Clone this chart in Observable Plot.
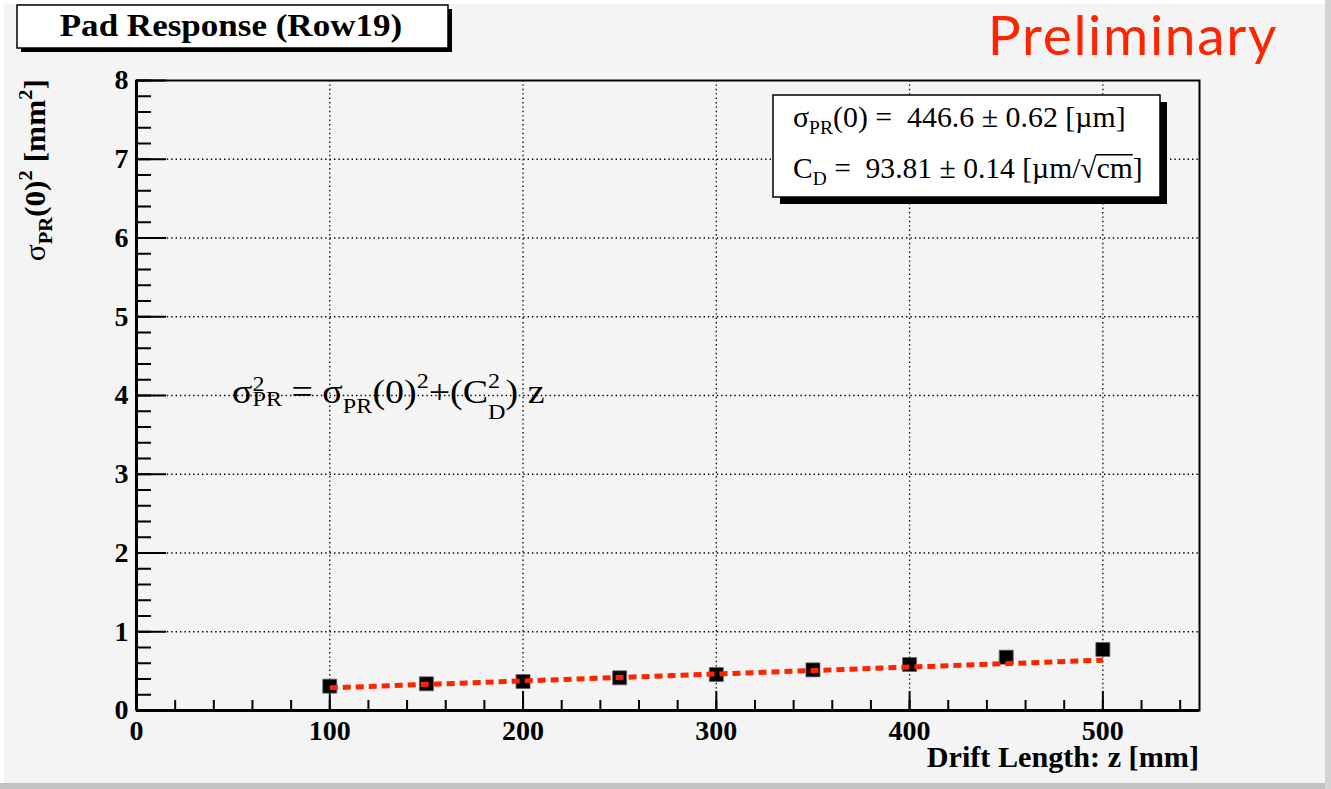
<!DOCTYPE html>
<html>
<head>
<meta charset="utf-8">
<script src="https://cdn.jsdelivr.net/npm/d3@7"></script>
<script src="https://cdn.jsdelivr.net/npm/@observablehq/plot@0.6"></script>
<style>
  html, body { margin: 0; padding: 0; background: #f4f4f4; }
  #chart { width: 1331px; height: 789px; position: relative; overflow: hidden; }
  #chart svg { display: block; }
</style>
</head>
<body>
<div id="chart"></div>
<script>
// Measured pad-response width squared versus drift length (Row 19)
const driftLength = [100, 150, 200, 250, 300, 350, 400, 450, 500];           // z [mm]
const sigmaPR2 = [0.309, 0.339, 0.368, 0.415, 0.457, 0.516, 0.584, 0.677, 0.775]; // σ_PR² [mm²]

// Fit result: σ_PR² = σ_PR(0)² + C_D² z
const fitSigma0 = 446.6;     // µm
const fitSigma0Err = 0.62;   // µm
const fitCD = 93.81;         // µm/√cm
const fitCDErr = 0.14;       // µm/√cm
const fitRange = [100, 500]; // mm

// Axis ticks
const xMajorTicks = [0, 100, 200, 300, 400, 500];
const xMinorTicks = d3.range(0, 551, 20);
const yMajorTicks = [0, 1, 2, 3, 4, 5, 6, 7, 8];
const yMinorTicks = d3.range(0, 8.01, 0.2);

// Texts
const titleText = "Pad Response (Row19)";
const stampText = "Preliminary";
const xTitleText = "Drift Length: z [mm]";

const points = driftLength.map((z, i) => ({z, s2: sigmaPR2[i]}));
// fit curve evaluated in mm²: (µm → mm)², C_D² per cm → per 10 mm
const fitAt = z => (fitSigma0 / 1000) ** 2 + (fitCD / 1000) ** 2 * (z / 10);
const fitLine = fitRange.map(z => ({z, s2: fitAt(z)}));

const serif = "'Liberation Serif', 'Times New Roman', serif";
const axisStyle = {stroke: "#000", strokeWidth: 2, label: null};

const chart = Plot.plot({
  width: 1331,
  height: 789,
  marginLeft: 136,
  marginRight: 132,
  marginTop: 80,
  marginBottom: 79,
  style: {background: "transparent", fontFamily: serif, fontSize: "28px", fontWeight: "bold", color: "#000"},
  x: {domain: [0, 550]},
  y: {domain: [0, 8]},
  marks: [
    // dotted grid at major ticks
    Plot.gridX(xMajorTicks.filter(d => d > 0), {stroke: "#000", strokeOpacity: 1, strokeWidth: 1.3, strokeDasharray: "1.4,3"}),
    Plot.gridY(yMajorTicks.filter(d => d > 0 && d < 8), {stroke: "#000", strokeOpacity: 1, strokeWidth: 1.3, strokeDasharray: "1.4,3"}),
    Plot.frame({stroke: "#000", strokeWidth: 2}),
    // inward ticks
    Plot.axisX({...axisStyle, ticks: xMinorTicks, tickSize: -10, fill: "none"}),
    Plot.axisX({...axisStyle, ticks: xMajorTicks, tickSize: -19, fill: "none"}),
    Plot.axisY({...axisStyle, ticks: yMinorTicks, tickSize: -15, fill: "none"}),
    Plot.axisY({...axisStyle, ticks: yMajorTicks, tickSize: -30, fill: "none"}),
    // tick labels
    Plot.axisX({ticks: xMajorTicks, tickSize: 0, tickPadding: 10, tickFormat: d3.format("d"), label: null, fill: "#000"}),
    Plot.axisY({ticks: yMajorTicks, tickSize: 0, tickPadding: 8, tickFormat: d3.format("d"), label: null, fill: "#000"}),
    Plot.ruleX([0], {stroke: "#000", strokeWidth: 3}),
    Plot.ruleY([0], {stroke: "#000", strokeWidth: 3}),
    // data
    Plot.dot(points, {x: "z", y: "s2", symbol: "square", r: 7.9, fill: "#000", stroke: "#666", strokeWidth: 0.8}),
    Plot.line(fitLine, {x: "z", y: "s2", stroke: "#ff2400", strokeWidth: 5, strokeDasharray: "8,5", strokeLinecap: "butt"})
  ]
});

document.getElementById("chart").append(chart);
const svg = d3.select(chart);

// Rich text: runs of text with sub/superscripts laid out by measured widths,
// optionally widened horizontally by sx
function rich(parent, segs, {x = 0, y = 0, anchor = "start", family = serif, size = 26, weight = "normal", fill = "#000", sx = 1} = {}) {
  const g = parent.append("g").attr("text-anchor", "start");
  let cx = 0;
  const put = (s, at) => {
    const t = g.append("text")
      .attr("x", at).attr("y", s.dy || 0)
      .attr("text-anchor", "start")
      .attr("font-family", s.family || family)
      .attr("font-size", s.size || size)
      .attr("font-weight", s.weight || weight)
      .attr("fill", fill)
      .style("white-space", "pre")
      .text(s.t);
    const w = t.node().getComputedTextLength();
    if (s.overline) {
      const yy = (s.dy || 0) - (s.size || size) * 0.8;
      g.append("line")
        .attr("x1", at - 1).attr("x2", at + w)
        .attr("y1", yy).attr("y2", yy)
        .attr("stroke", fill).attr("stroke-width", 1.4);
    }
    return w + (s.after || 0);
  };
  for (const s of segs) {
    if (s.stack) {
      let w = 0;
      for (const p of s.stack) w = Math.max(w, put(p, cx));
      cx += w;
    } else {
      cx += put(s, cx);
    }
  }
  const total = cx * sx;
  const shift = anchor === "end" ? -total : anchor === "middle" ? -total / 2 : 0;
  g.attr("transform", `translate(${x + shift},${y}) scale(${sx},1)`);
  return g;
}

// Canvas bevel
svg.append("rect").attr("x", 0).attr("y", 0).attr("width", 1331).attr("height", 4).attr("fill", "#fff");
svg.append("rect").attr("x", 0).attr("y", 0).attr("width", 4).attr("height", 789).attr("fill", "#fff");
svg.append("rect").attr("x", 0).attr("y", 783).attr("width", 1331).attr("height", 6).attr("fill", "#c2c2c2");
svg.append("rect").attr("x", 1325).attr("y", 0).attr("width", 6).attr("height", 789).attr("fill", "#d4d4d4");

// Title box with shadow
svg.append("rect").attr("x", 21).attr("y", 9).attr("width", 431).attr("height", 43).attr("fill", "#000");
svg.append("rect").attr("x", 17).attr("y", 5).attr("width", 431).attr("height", 43)
  .attr("fill", "#fff").attr("stroke", "#000").attr("stroke-width", 1.5);
rich(svg, [{t: titleText}], {x: 231, y: 36, anchor: "middle", size: 31, weight: "bold", sx: 1.13});

// Stamp
svg.append("text").attr("x", 1278).attr("y", 55).attr("text-anchor", "end")
  .attr("font-family", "Lato, 'Open Sans', sans-serif").attr("font-size", 55)
  .attr("font-weight", "normal").attr("letter-spacing", 1.7)
  .attr("fill", "#ff2400").text(stampText);

// Fit statistics box with shadow
svg.append("rect").attr("x", 780).attr("y", 102).attr("width", 387).attr("height", 102).attr("fill", "#000");
svg.append("rect").attr("x", 773).attr("y", 95).attr("width", 387).attr("height", 102)
  .attr("fill", "#fff").attr("stroke", "#000").attr("stroke-width", 1.5);
rich(svg, [
  {t: "σ"}, {t: "PR", size: 19, dy: 7},
  {t: `(0) =  ${fitSigma0.toFixed(1)} ± ${fitSigma0Err.toFixed(2)} [µm]`}
], {x: 793, y: 127, size: 29, sx: 1.03});
rich(svg, [
  {t: "C"}, {t: "D", size: 19, dy: 7},
  {t: ` =  ${fitCD.toFixed(2)} ± ${fitCDErr.toFixed(2)} [µm/√`}, {t: "cm", overline: true}, {t: "]"}
], {x: 793, y: 178, size: 29, sx: 1.02});

// Model formula
rich(svg, [
  {t: "σ"}, {stack: [{t: "2", size: 21, dy: -12}, {t: "PR", size: 21, dy: 3}]},
  {t: " = σ"}, {t: "PR", size: 21, dy: 10},
  {t: "(0)"}, {t: "2", size: 21, dy: -15},
  {t: "+(C"}, {stack: [{t: "2", size: 21, dy: -15}, {t: "D", size: 21, dy: 16}]},
  {t: ") z"}
], {x: 232, y: 403, size: 33, sx: 1.15});

// Axis titles
rich(svg, [{t: xTitleText}], {x: 1199, y: 767, anchor: "end", size: 29, weight: "bold", sx: 1.04});
const yTitle = svg.append("g").attr("transform", "translate(45,79) rotate(-90)");
rich(yTitle, [
  {t: "σ", weight: "normal"}, {t: "PR", size: 19, dy: 7},
  {t: "(0)"}, {t: "2", size: 19, dy: -13},
  {t: " [mm"}, {t: "2", size: 19, dy: -13}, {t: "]"}
], {x: 0, y: 0, anchor: "end", size: 29, weight: "bold", sx: 1.08});
</script>
</body>
</html>
